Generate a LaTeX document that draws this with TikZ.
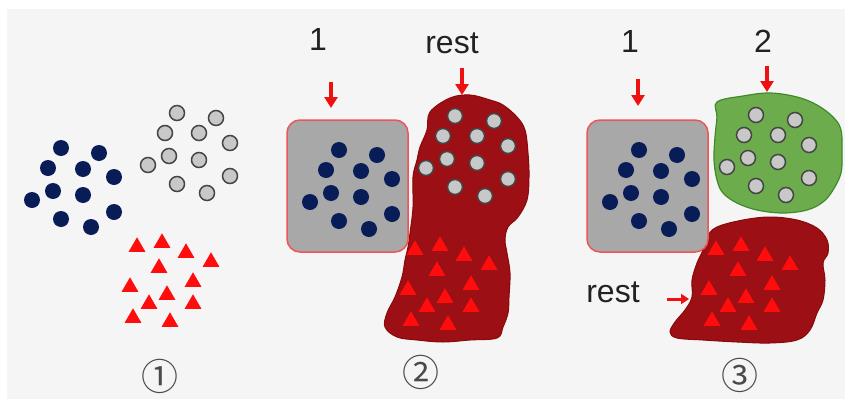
\documentclass[tikz,border=0pt]{standalone}
\usepackage{fontspec}
\setmainfont{Liberation Sans}
\newfontfamily\cjkfont{Noto Sans CJK SC}
\usetikzlibrary{shapes.geometric,arrows.meta}
\definecolor{bgc}{HTML}{F5F5F5}
\definecolor{navy}{RGB}{8,28,88}
\definecolor{dotgray}{HTML}{C8C8C8}
\definecolor{dotedge}{HTML}{454545}
\definecolor{trired}{HTML}{FF0D0D}
\definecolor{blobred}{HTML}{9C0F14}
\definecolor{blobedge}{HTML}{880A0A}
\definecolor{blobgreen}{HTML}{6CAC4C}
\definecolor{greenedge}{HTML}{3F8A2A}
\definecolor{boxgray}{HTML}{A8A8A8}
\definecolor{boxedge}{HTML}{EE5555}
\definecolor{arrred}{HTML}{EE1111}
\definecolor{txtc}{HTML}{222222}
\definecolor{numgray}{HTML}{4A4A4A}
\def\bluelist{61/148,99/153,48/168,83/169,114/177,53/191,83/195,32/200,114/212,61/219,91/227}
\def\graylist{177/113,216/118,165/133,199/133,230/143,169/156,199/160,148/165,230/176,177/184,207/193}
\def\trilist{137/247,162/243,186/253,211/262,159/268,193/282,130/287,167/295,149/304,193/304,133/318,170/322}
\begin{document}
\begin{tikzpicture}[x=1pt,y=-1pt,
  bdot/.style={circle,fill=navy,minimum size=16pt,inner sep=0pt},
  gdot/.style={circle,fill=dotgray,draw=dotedge,line width=1.5pt,minimum size=15pt,inner sep=0pt},
  rtri/.style={regular polygon,regular polygon sides=3,fill=trired,minimum size=19.5pt,inner sep=0pt},
  redarr/.style={draw=arrred,line width=4pt,-{Triangle[width=13pt,length=11pt]}},
  smallarr/.style={draw=arrred,line width=3pt,-{Triangle[width=10pt,length=8pt]}},
  lbl/.style={font=\fontsize{32}{32}\selectfont,text=txtc,inner sep=0pt,anchor=base},
  circnum/.style={font=\cjkfont\fontsize{37}{37}\selectfont,text=numgray,inner sep=0pt},
  graybox/.style={rectangle,rounded corners=13pt,fill=boxgray,draw=boxedge,line width=1.5pt,minimum width=121pt,minimum height=132pt,inner sep=0pt},
  redblob/.style={fill=blobred,draw=blobedge,line width=1pt},
  greenblob/.style={fill=blobgreen,draw=greenedge,line width=1.2pt}]
\useasboundingbox (0,0) rectangle (845,399);
\fill[white] (0,0) rectangle (845,399);
\fill[bgc] (7,9) rectangle (845,399);

% ---------- panel 1 ----------
\foreach \x/\y [count=\i] in \bluelist {\node[bdot] (bA\i) at (\x,\y) {};}
\foreach \x/\y [count=\i] in \graylist {\node[gdot] (gA\i) at (\x,\y) {};}
\foreach \x/\y [count=\i] in \trilist {\node[rtri] (tA\i) at (\x,\y) {};}
\node[circnum] (n1) at (160,376) {①};

% ---------- panel 2 ----------
\path[redblob] plot[smooth cycle,tension=0.6] coordinates {(430,112) (450,98) (470,95) (490,100) (503,105) (517,117) (525,130) (528,153) (529,177) (527,200) (518,217) (508,227) (505,240) (507,253) (510,273) (509,297) (508,313) (503,327) (497,338) (470,340) (443,342) (417,340) (397,337) (385,327) (387,313) (395,297) (402,277) (405,260) (408,247) (410,233) (413,207) (413,177) (417,160) (420,147) (427,130)};
\node[graybox] (box2) at (347.5,186) {};
\begin{scope}[shift={(278,2)}]
\foreach \x/\y [count=\i] in \bluelist {\node[bdot] (bB\i) at (\x,\y) {};}
\end{scope}
\begin{scope}[shift={(278,3)}]
\foreach \x/\y [count=\i] in \graylist {\node[gdot] (gB\i) at (\x,\y) {};}
\foreach \x/\y [count=\i] in \trilist {\node[rtri] (tB\i) at (\x,\y) {};}
\end{scope}
\node[lbl] (l21) at (318,50) {1};
\node[lbl] (l2r) at (452,53) {rest};
\coordinate (a21s) at (331,82); \coordinate (a21e) at (331,108);
\coordinate (a2rs) at (462,68); \coordinate (a2re) at (462,95);
\draw[redarr] (a21s) -- (a21e);
\draw[redarr] (a2rs) -- (a2re);
\node[circnum] (n2) at (421,372) {②};

% ---------- panel 3 ----------
\path[greenblob] plot[smooth cycle,tension=0.6] coordinates {(717,102) (743,96) (770,93) (797,97) (817,105) (833,117) (841,130) (842,153) (841,173) (833,190) (823,202) (807,210) (783,213) (757,210) (737,203) (723,193) (717,180) (714,160) (715,137) (717,117)};
\path[redblob] plot[smooth cycle,tension=0.6] coordinates {(717,227) (743,220) (770,217) (797,220) (817,228) (827,240) (828,253) (823,263) (825,280) (823,300) (817,313) (810,330) (797,340) (770,343) (737,342) (703,340) (677,338) (670,332) (675,322) (685,310) (692,297) (692,280) (697,263) (703,250) (707,237)};
\node[graybox] (box3) at (647.5,186) {};
\begin{scope}[shift={(578,2)}]
\foreach \x/\y [count=\i] in \bluelist {\node[bdot] (bC\i) at (\x,\y) {};}
\end{scope}
\begin{scope}[shift={(579,2)}]
\foreach \x/\y [count=\i] in \graylist {\node[gdot] (gC\i) at (\x,\y) {};}
\end{scope}
\begin{scope}[shift={(579,3)}]
\foreach \x/\y [count=\i] in \trilist {\node[rtri] (tC\i) at (\x,\y) {};}
\end{scope}
\node[lbl] (l31) at (630,52) {1};
\node[lbl] (l32) at (763,52) {2};
\node[lbl] (l3r) at (613,302) {rest};
\coordinate (a31s) at (638,79); \coordinate (a31e) at (638,106);
\coordinate (a32s) at (767,66); \coordinate (a32e) at (767,92);
\coordinate (a3rs) at (667,299); \coordinate (a3re) at (689,299);
\draw[redarr] (a31s) -- (a31e);
\draw[redarr] (a32s) -- (a32e);
\draw[smallarr] (a3rs) -- (a3re);
\node[circnum] (n3) at (740,375) {③};
\end{tikzpicture}
\end{document}
